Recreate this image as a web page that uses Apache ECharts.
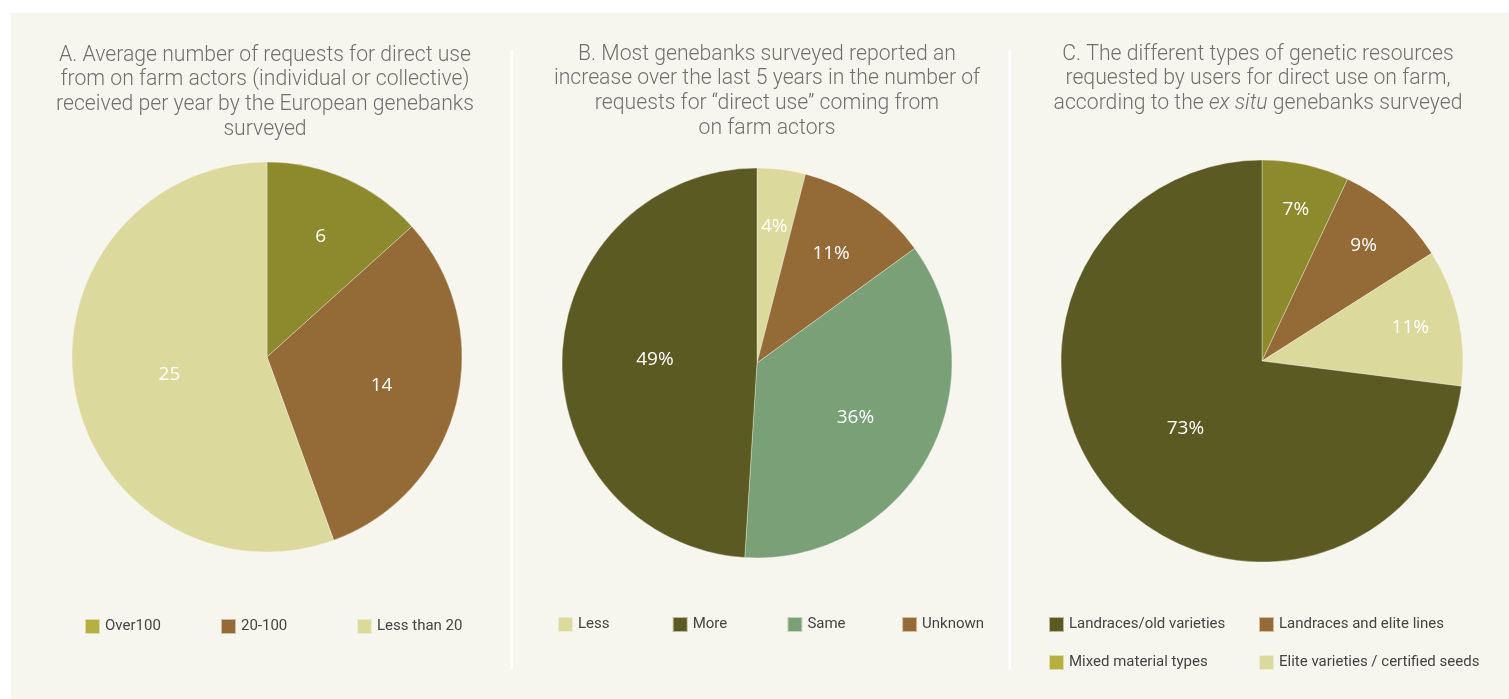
<!DOCTYPE html>
<html>
<head>
<meta charset="utf-8">
<script src="https://cdn.jsdelivr.net/npm/echarts@6/dist/echarts.min.js"></script>
<style>
html,body{margin:0;padding:0;background:#ffffff;}
#chart{width:1509px;height:699px;}
</style>
</head>
<body>
<div id="chart"></div>
<script>
// ---- Data ----
const titleA = 'A. Average number of requests for direct use\nfrom on farm actors (individual or collective)\nreceived per year by the European genebanks\nsurveyed';
const titleB = 'B. Most genebanks surveyed reported an\nincrease over the last 5 years in the number of\nrequests for \u201cdirect use\u201d coming from\non farm actors';
const titleC = 'C. The different types of genetic resources\nrequested by users for direct use on farm,\naccording to the {i|ex situ} genebanks surveyed';

const catsA = ['Over100', '20-100', 'Less than 20'];
const valsA = [6, 14, 25];
const legendA = ['Over100', '20-100', 'Less than 20'];

const catsB = ['Less', 'Unknown', 'Same', 'More'];
const valsB = [4, 11, 36, 49];
const legendB = ['Less', 'More', 'Same', 'Unknown'];

const catsC = ['Mixed material types', 'Landraces and elite lines', 'Elite varieties / certified seeds', 'Landraces/old varieties'];
const valsC = [7, 9, 11, 73];
const legendC = ['Landraces/old varieties', 'Landraces and elite lines', 'Mixed material types', 'Elite varieties / certified seeds'];

// ---- Styles ----
const COL = {
  olive: '#8c8a2c', oliveLegend: '#b5b040', brown: '#946a36',
  light: '#dbd99c', dark: '#5c5a23', green: '#7aa078'
};
const sliceColor = {
  'Over100': COL.olive, '20-100': COL.brown, 'Less than 20': COL.light,
  'Less': COL.light, 'Unknown': COL.brown, 'Same': COL.green, 'More': COL.dark,
  'Mixed material types': COL.olive, 'Landraces and elite lines': COL.brown,
  'Elite varieties / certified seeds': COL.light, 'Landraces/old varieties': COL.dark
};
const legendColor = Object.assign({}, sliceColor, {
  'Over100': COL.oliveLegend, 'Mixed material types': COL.oliveLegend
});

const chart = echarts.init(document.getElementById('chart'), null, {renderer: 'canvas'});

function pieData(cats, vals) {
  return cats.map((c, i) => ({name: c, value: vals[i], itemStyle: {color: sliceColor[c]}}));
}
function legendData(names) {
  return names.map(n => ({name: n, itemStyle: {color: legendColor[n]}}));
}
function labelLayoutFor(vals, outer) {
  const total = vals.reduce((a, b) => a + b, 0);
  return function (params) {
    try {
      const s = chart.getModel().getSeriesByIndex(params.seriesIndex);
      const lay = s.getData().getItemLayout(params.dataIndex);
      const p = vals[params.dataIndex] / total;
      const f = Math.max(0.5, outer - 0.4 * p);
      const mid = (lay.startAngle + lay.endAngle) / 2;
      return {
        x: lay.cx + lay.r * f * Math.cos(mid),
        y: lay.cy + lay.r * f * Math.sin(mid),
        align: 'center', verticalAlign: 'middle'
      };
    } catch (e) { return {}; }
  };
}

const titleStyle = {
  fontFamily: 'Roboto', fontWeight: 300, fontSize: 21.2, lineHeight: 24.7, color: '#707070',
  rich: {i: {fontFamily: 'Roboto', fontWeight: 300, fontStyle: 'italic', fontSize: 21.2, lineHeight: 24.7, color: '#707070'}}
};
const legendText = {fontFamily: 'Roboto', fontSize: 15, color: '#444444', lineHeight: 17};
const labelStyle = {show: true, position: 'inside', color: '#ffffff', fontFamily: 'Open Sans', fontSize: 19};
const itemBorder = {borderColor: 'rgba(247,246,238,0.6)', borderWidth: 0.6};

const option = {
  animation: false,
  backgroundColor: '#ffffff',
  graphic: [
    {type: 'rect', shape: {x: 11, y: 13, width: 1498, height: 686}, style: {fill: '#f7f6ee'}, z: -10, silent: true},
    {type: 'rect', shape: {x: 510.5, y: 50, width: 2.5, height: 619}, style: {fill: '#ffffff'}, z: -9, silent: true},
    {type: 'rect', shape: {x: 1008.5, y: 50, width: 2.5, height: 619}, style: {fill: '#ffffff'}, z: -9, silent: true}
  ],
  title: [
    {text: titleA, left: 265, top: 43, textAlign: 'center', padding: 0, textStyle: titleStyle},
    {text: titleB, left: 767, top: 42, textAlign: 'center', padding: 0, textStyle: titleStyle},
    {text: titleC, left: 1258, top: 42, textAlign: 'center', padding: 0, textStyle: titleStyle}
  ],
  legend: [
    {data: legendData(legendA), left: 84, top: 618, padding: 0, itemWidth: 15, itemHeight: 15, itemGap: 0,
     icon: 'rect', textStyle: Object.assign({width: 115}, legendText), selectedMode: false},
    {data: legendData(legendB), left: 557, top: 616, padding: 0, itemWidth: 15, itemHeight: 15, itemGap: 0,
     icon: 'rect', textStyle: Object.assign({width: 93.7}, legendText), selectedMode: false},
    {data: legendData(legendC), left: 1048, top: 616, width: 445, padding: 0, itemWidth: 15, itemHeight: 15, itemGap: 21,
     icon: 'rect', textStyle: Object.assign({width: 168}, legendText), selectedMode: false}
  ],
  series: [
    {type: 'pie', center: [267, 357], radius: [0, 195], startAngle: 90, clockwise: true,
     data: pieData(catsA, valsA), label: Object.assign({formatter: '{c}'}, labelStyle),
     labelLine: {show: false}, itemStyle: itemBorder, emphasis: {disabled: true},
     labelLayout: labelLayoutFor(valsA, 0.73)},
    {type: 'pie', center: [757, 363], radius: [0, 195], startAngle: 90, clockwise: true,
     data: pieData(catsB, valsB), label: Object.assign({formatter: '{c}%'}, labelStyle),
     labelLine: {show: false}, itemStyle: itemBorder, emphasis: {disabled: true},
     labelLayout: labelLayoutFor(valsB, 0.72)},
    {type: 'pie', center: [1262, 361], radius: [0, 201], startAngle: 90, clockwise: true,
     data: pieData(catsC, valsC), label: Object.assign({formatter: '{c}%'}, labelStyle),
     labelLine: {show: false}, itemStyle: itemBorder, emphasis: {disabled: true},
     labelLayout: labelLayoutFor(valsC, 0.8)}
  ]
};
chart.setOption(option);
</script>
</body>
</html>
